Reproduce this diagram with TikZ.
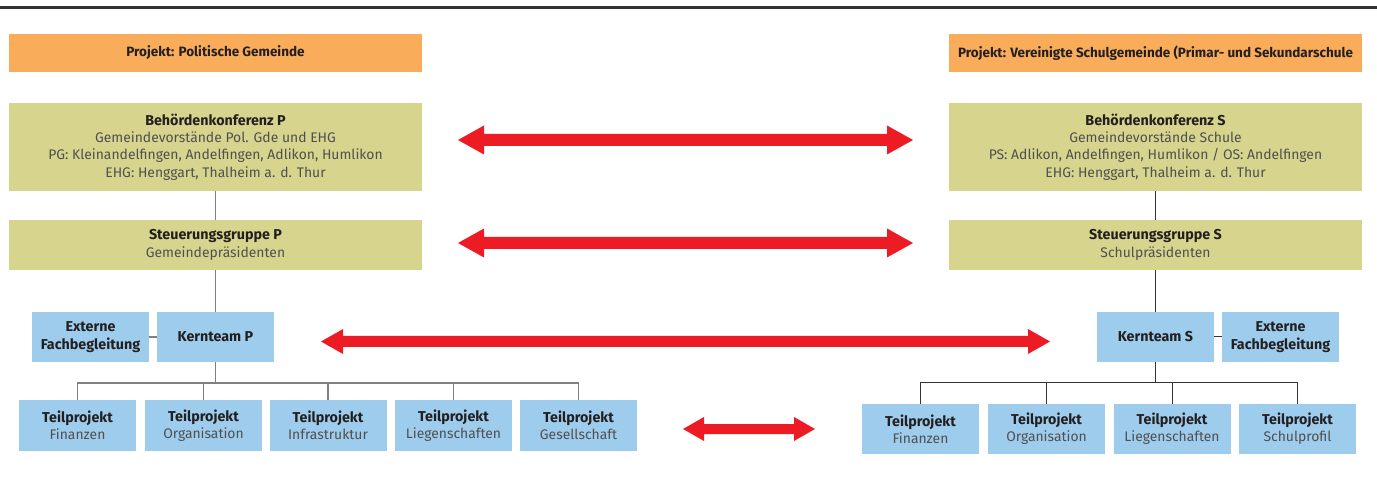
\documentclass[tikz,border=0pt]{standalone}
\usepackage{fontspec}
\setmainfont{Fira Sans}
\usetikzlibrary{calc}
\definecolor{hdr}{HTML}{F9AD5A}
\definecolor{olive}{HTML}{D7D48D}
\definecolor{sky}{HTML}{9DCCEC}
\definecolor{arrowred}{HTML}{ED1C24}
\definecolor{txtdark}{HTML}{231F20}
\definecolor{txtgray}{HTML}{505050}
\definecolor{lineP}{HTML}{808080}
\definecolor{lineS}{HTML}{333333}
\newcommand\ttl[1]{{\fontsize{14.3}{17.3}\selectfont\bfseries\color{txtdark}#1}}
\newcommand\dblarrow[6]{%
  \fill[arrowred] (#1,#3) -- (#1+#4,#3-#5) -- (#1+#4,#3-#6) -- (#2-#4,#3-#6) -- (#2-#4,#3-#5) -- (#2,#3)
    -- (#2-#4,#3+#5) -- (#2-#4,#3+#6) -- (#1+#4,#3+#6) -- (#1+#4,#3+#5) -- cycle;}
\begin{document}
\begin{tikzpicture}[x=1pt,y=-1pt,
  box/.style={inner sep=0pt, align=center, text=txtgray, font=\fontsize{13.9}{17.3}\selectfont},
  hdrbox/.style={box, fill=hdr, minimum width=413pt, minimum height=38pt, text=txtdark, font=\fontsize{13.5}{15}\selectfont\bfseries},
  bigbox/.style={box, fill=olive, minimum width=413pt},
  bluebox/.style={box, fill=sky, minimum width=117pt, minimum height=50pt},
  conP/.style={draw=lineP, line width=1.3pt},
  conS/.style={draw=lineS, line width=1pt}]
\useasboundingbox (0,0) rectangle (1377,486);
\fill[white] (0,0) rectangle (1377,486);
\draw[line width=3pt, draw=lineS] (0,8) -- (1377,8);

% headers
\node[hdrbox] (hdrP) at (215.5,53) {Projekt: Politische Gemeinde};
\node[hdrbox] (hdrS) at (1155.5,53) {Projekt: Vereinigte Schulgemeinde (Primar- und Sekundarschule};

% Behoerdenkonferenz
\node[bigbox, minimum height=88pt] (bkP) at (215.5,147) {\ttl{Behördenkonferenz P}\\Gemeindevorstände Pol. Gde und EHG\\PG: Kleinandelfingen, Andelfingen, Adlikon, Humlikon\\EHG: Henggart, Thalheim a. d. Thur};
\node[bigbox, minimum height=88pt] (bkS) at (1155.5,147) {\ttl{Behördenkonferenz S}\\Gemeindevorstände Schule\\PS: Adlikon, Andelfingen, Humlikon / OS: Andelfingen\\EHG: Henggart, Thalheim a. d. Thur};

% Steuerungsgruppe
\node[bigbox, minimum height=50pt] (sgP) at (215.5,245) {\ttl{Steuerungsgruppe P}\\Gemeindepräsidenten};
\node[bigbox, minimum height=50pt] (sgS) at (1155.5,245) {\ttl{Steuerungsgruppe S}\\Schulpräsidenten};

% Kernteams
\node[bluebox] (extP) at (90.5,337) {\ttl{Externe}\\\ttl{Fachbegleitung}};
\node[bluebox] (ktP) at (215.5,337) {\ttl{Kernteam P}};
\node[bluebox] (ktS) at (1155.5,337) {\ttl{Kernteam S}};
\node[bluebox] (extS) at (1280.5,337) {\ttl{Externe}\\\ttl{Fachbegleitung}};

% Teilprojekte P
\node[bluebox, minimum height=51pt] (tpP1) at (77.5,425.5) {\ttl{Teilprojekt}\\Finanzen};
\node[bluebox, minimum height=51pt] (tpP2) at (203.5,425.5) {\ttl{Teilprojekt}\\Organisation};
\node[bluebox, minimum height=51pt] (tpP3) at (328,425.5) {\ttl{Teilprojekt}\\Infrastruktur};
\node[bluebox, minimum height=51pt] (tpP4) at (453.5,425.5) {\ttl{Teilprojekt}\\Liegenschaften};
\node[bluebox, minimum height=51pt] (tpP5) at (578.5,425.5) {\ttl{Teilprojekt}\\Gesellschaft};

% Teilprojekte S
\node[bluebox] (tpS1) at (920.5,429) {\ttl{Teilprojekt}\\Finanzen};
\node[bluebox] (tpS2) at (1046.5,429) {\ttl{Teilprojekt}\\Organisation};
\node[bluebox] (tpS3) at (1172,429) {\ttl{Teilprojekt}\\Liegenschaften};
\node[bluebox] (tpS4) at (1297.5,429) {\ttl{Teilprojekt}\\Schulprofil};

% connectors P
\coordinate (busP) at (215.5,383);
\draw[conP] (bkP.south) -- (sgP.north);
\draw[conP] (sgP.south) -- (ktP.north);
\draw[conP] (extP.east) -- (ktP.west);
\draw[conP] (ktP.south) -- (busP);
\draw[conP] (tpP1.north) -- (tpP1.north |- busP) -- (tpP5.north |- busP) -- (tpP5.north);
\foreach \n in {tpP2,tpP3,tpP4} \draw[conP] (\n.north) -- (\n.north |- busP);

% connectors S
\coordinate (busS) at (1155.5,383);
\draw[conS] (bkS.south) -- (sgS.north);
\draw[conS] (sgS.south) -- (ktS.north);
\draw[conS] (ktS.east) -- (extS.west);
\draw[conS] (ktS.south) -- (busS);
\draw[conS] (tpS1.north) -- (tpS1.north |- busS) -- (tpS4.north |- busS) -- (tpS4.north);
\foreach \n in {tpS2,tpS3} \draw[conS] (\n.north) -- (\n.north |- busS);

% red double arrows
\dblarrow{458}{913}{140}{26}{14.5}{6}
\dblarrow{458}{913}{243}{26}{14.5}{6}
\dblarrow{321}{1050}{341.5}{22}{12.5}{5.5}
\dblarrow{683}{815}{429}{21}{12}{5}
\end{tikzpicture}
\end{document}
